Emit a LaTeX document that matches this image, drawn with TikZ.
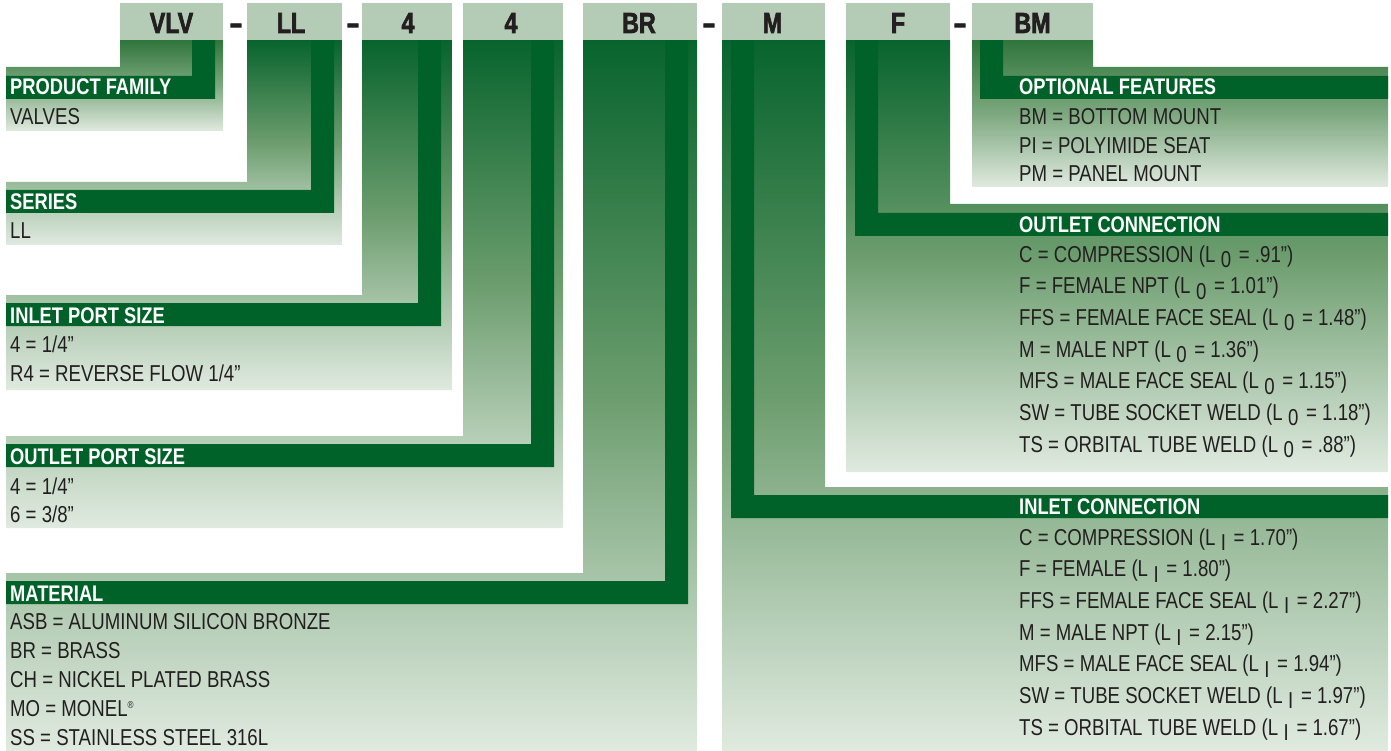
\documentclass[tikz,border=0pt]{standalone}
\usepackage{fontspec}
\usepackage{graphicx}
\setmainfont{Liberation Sans}[FakeStretch=0.81]
\newfontfamily\hdrfont{Liberation Sans}[FakeStretch=0.80, FakeBold=2.2]
\definecolor{dkgreen}{RGB}{0,98,41}
\definecolor{hdrgreen}{RGB}{180,204,181}
\definecolor{gtop}{RGB}{8,100,45}
\definecolor{gmid}{RGB}{108,157,110}
\definecolor{gtops}{RGB}{48,117,60}
\definecolor{gmids}{RGB}{125,168,127}
\definecolor{gbot}{RGB}{224,234,224}
\definecolor{txt}{RGB}{35,31,32}
\newcommand{\Lsub}[1]{L\hspace{5.5pt}\raisebox{-5.5pt}{\scalebox{1.0}{#1}}\hspace{2.5pt}}
\newcommand{\regmark}{\raisebox{8pt}{\fontsize{10}{10}\selectfont ®}}
\begin{document}
\begin{tikzpicture}[x=1pt,y=-1pt,
  hdrbox/.style={fill=hdrgreen},
  barfill/.style={fill=dkgreen},
  gradlong/.style={top color=gtop, bottom color=gbot, middle color=gmid},
  gradshort/.style={top color=gtops, bottom color=gbot, middle color=gmids},
  code/.style={font=\hdrfont\bfseries\fontsize{29}{30}\selectfont, text=txt, inner sep=0pt, anchor=base},
  dashtxt/.style={font=\hdrfont\bfseries\fontsize{29}{30}\selectfont, text=txt, inner sep=0pt, anchor=base},
  lbl/.style={font=\bfseries\fontsize{22.6}{24}\selectfont, text=white, inner sep=0pt, anchor=base west},
  item/.style={font=\fontsize{23}{25}\selectfont, text=txt, inner sep=0pt, anchor=base west},
]
\useasboundingbox (0,0) rectangle (1391,751);

% ---------- PRODUCT FAMILY (VLV)
\path[gradshort] (120,40) -- (223,40) -- (223,131) -- (6,131) -- (6,67) -- (120,67) -- cycle;
\fill[barfill] (192,40) -- (215,40) -- (215,99) -- (6,99) -- (6,76) -- (192,76) -- cycle;
\fill[hdrbox] (120,3) rectangle (223,40);

% ---------- SERIES (LL)
\path[gradlong] (247,40) -- (342,40) -- (342,245) -- (6,245) -- (6,182) -- (247,182) -- cycle;
\fill[barfill] (311,40) -- (334,40) -- (334,213) -- (6,213) -- (6,190) -- (311,190) -- cycle;
\fill[hdrbox] (247,3) rectangle (342,40);

% ---------- INLET PORT SIZE
\path[gradlong] (362,40) -- (452,40) -- (452,390) -- (6,390) -- (6,295) -- (362,295) -- cycle;
\fill[barfill] (418,40) -- (441,40) -- (441,326) -- (6,326) -- (6,303) -- (418,303) -- cycle;
\fill[hdrbox] (362,3) rectangle (452,40);

% ---------- OUTLET PORT SIZE
\path[gradlong] (463,40) -- (563,40) -- (563,528) -- (6,528) -- (6,436) -- (463,436) -- cycle;
\fill[barfill] (531,40) -- (554,40) -- (554,467) -- (6,467) -- (6,444) -- (531,444) -- cycle;
\fill[hdrbox] (463,3) rectangle (563,40);

% ---------- MATERIAL
\path[gradlong] (583,40) -- (697,40) -- (697,751) -- (6,751) -- (6,573) -- (583,573) -- cycle;
\fill[barfill] (665,40) -- (688,40) -- (688,604) -- (6,604) -- (6,581) -- (665,581) -- cycle;
\fill[hdrbox] (583,3) rectangle (697,40);

% ---------- INLET CONNECTION (M)
\path[gradlong] (722,40) -- (825,40) -- (825,487) -- (1388,487) -- (1388,751) -- (722,751) -- cycle;
\fill[barfill] (731,40) -- (754,40) -- (754,495) -- (1388,495) -- (1388,518) -- (731,518) -- cycle;
\fill[hdrbox] (722,3) rectangle (825,40);

% ---------- OUTLET CONNECTION (F)
\path[gradlong] (846,40) -- (950,40) -- (950,204) -- (1388,204) -- (1388,472) -- (846,472) -- cycle;
\fill[barfill] (855,40) -- (878,40) -- (878,213) -- (1388,213) -- (1388,236) -- (855,236) -- cycle;
\fill[hdrbox] (846,3) rectangle (950,40);

% ---------- OPTIONAL FEATURES (BM)
\path[gradshort] (972,40) -- (1093,40) -- (1093,67) -- (1388,67) -- (1388,187) -- (972,187) -- cycle;
\fill[barfill] (980,40) -- (1003,40) -- (1003,76) -- (1388,76) -- (1388,99) -- (980,99) -- cycle;
\fill[hdrbox] (972,3) rectangle (1093,40);

% ---------- header codes
\node[code] (cVLV) at (171.5,33) {VLV};
\node[dashtxt] (d1) at (236,33) {\scalebox{1.7}[1]{-}};
\node[code] (cLL) at (291,33) {LL};
\node[dashtxt] (d2) at (353,33) {\scalebox{1.7}[1]{-}};
\node[code] (cIN) at (408,33) {4};
\node[code] (cOUT) at (511,33) {4};
\node[code] (cBR) at (639,33) {BR};
\node[dashtxt] (d3) at (709,33) {\scalebox{1.7}[1]{-}};
\node[code] (cM) at (772.5,33) {M};
\node[code] (cF) at (898,33) {F};
\node[dashtxt] (d4) at (960,33) {\scalebox{1.7}[1]{-}};
\node[code] (cBM) at (1032.5,33) {BM};

% ---------- left texts
\node[lbl] (lPF) at (10,95) {PRODUCT FAMILY};
\node[item] (iPF) at (10,125) {VALVES};
\node[lbl] (lSE) at (10,210) {SERIES};
\node[item] (iSE) at (10,239) {LL};
\node[lbl] (lIP) at (10,323) {INLET PORT SIZE};
\node[item] (iIP1) at (10,352) {4 = 1/4”};
\node[item] (iIP2) at (10,381) {R4 = REVERSE FLOW 1/4”};
\node[lbl] (lOP) at (10,464) {OUTLET PORT SIZE};
\node[item] (iOP1) at (10,494) {4 = 1/4”};
\node[item] (iOP2) at (10,522) {6 = 3/8”};
\node[lbl] (lMA) at (10,601) {MATERIAL};
\node[item] (iMA1) at (10,629) {ASB = ALUMINUM SILICON BRONZE};
\node[item] (iMA2) at (10,658) {BR = BRASS};
\node[item] (iMA3) at (10,687) {CH = NICKEL PLATED BRASS};
\node[item] (iMA4) at (10,716) {MO = MONEL\regmark};
\node[item] (iMA5) at (10,745) {SS = STAINLESS STEEL 316L};

% ---------- right texts
\node[lbl] (lOF) at (1019,95) {OPTIONAL FEATURES};
\node[item] (iOF1) at (1019,125) {BM = BOTTOM MOUNT};
\node[item] (iOF2) at (1019,153.5) {PI = POLYIMIDE SEAT};
\node[item] (iOF3) at (1019,182) {PM = PANEL MOUNT};

\node[lbl] (lOC) at (1019,232.5) {OUTLET CONNECTION};
\node[item] (iOC1) at (1019,262) {C = COMPRESSION (\Lsub{0} = .91”)};
\node[item] (iOC2) at (1019,293.7) {F = FEMALE NPT (\Lsub{0} = 1.01”)};
\node[item] (iOC3) at (1019,325.4) {FFS = FEMALE FACE SEAL (\Lsub{0} = 1.48”)};
\node[item] (iOC4) at (1019,357) {M = MALE NPT (\Lsub{0} = 1.36”)};
\node[item] (iOC5) at (1019,388.7) {MFS = MALE FACE SEAL (\Lsub{0} = 1.15”)};
\node[item] (iOC6) at (1019,420.4) {SW = TUBE SOCKET WELD (\Lsub{0} = 1.18”)};
\node[item] (iOC7) at (1019,452) {TS = ORBITAL TUBE WELD (\Lsub{0} = .88”)};

\node[lbl] (lIC) at (1019,514.5) {INLET CONNECTION};
\node[item] (iIC1) at (1019,545) {C = COMPRESSION (\Lsub{I} = 1.70”)};
\node[item] (iIC2) at (1019,576.7) {F = FEMALE (\Lsub{I} = 1.80”)};
\node[item] (iIC3) at (1019,608.4) {FFS = FEMALE FACE SEAL (\Lsub{I} = 2.27”)};
\node[item] (iIC4) at (1019,640) {M = MALE NPT (\Lsub{I} = 2.15”)};
\node[item] (iIC5) at (1019,671.7) {MFS = MALE FACE SEAL (\Lsub{I} = 1.94”)};
\node[item] (iIC6) at (1019,703.4) {SW = TUBE SOCKET WELD (\Lsub{I} = 1.97”)};
\node[item] (iIC7) at (1019,735) {TS = ORBITAL TUBE WELD (\Lsub{I} = 1.67”)};
\end{tikzpicture}
\end{document}
